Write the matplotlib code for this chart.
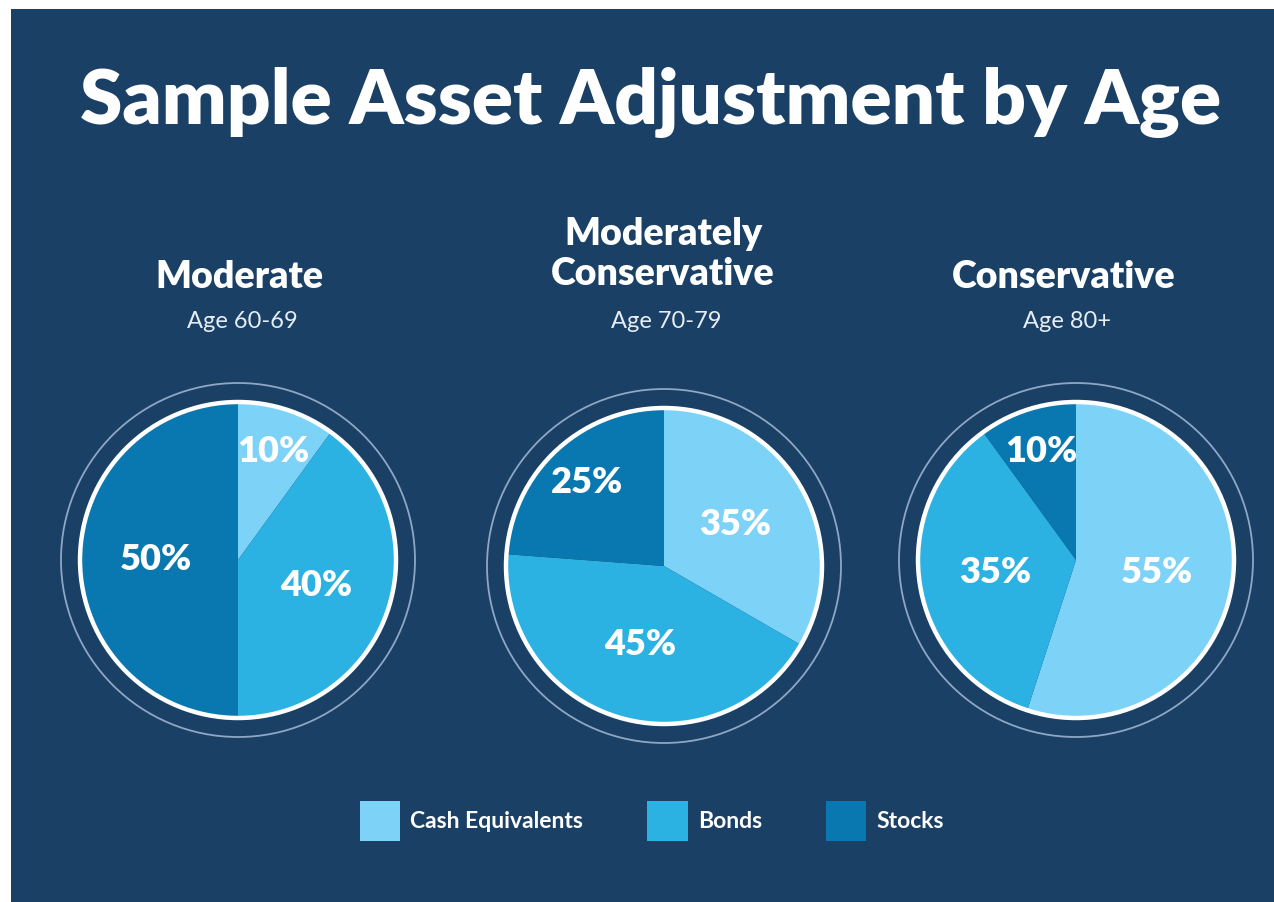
import matplotlib
matplotlib.use("Agg")
import matplotlib.pyplot as plt
from matplotlib.patches import Rectangle, Circle
import numpy as np

# ---- data ----
categories = ["Cash Equivalents", "Bonds", "Stocks"]
profiles = ["Moderate", "Moderately\nConservative", "Conservative"]
ages = ["Age 60-69", "Age 70-79", "Age 80+"]
moderate = [10, 40, 50]
moderately_conservative = [35, 45, 25]
conservative = [55, 35, 10]
title = "Sample Asset Adjustment by Age"

colors = ["#7dd2f7", "#2bb2e3", "#0a78b0"]
bg = "#1b4066"
W, H = 1274, 902

fig = plt.figure(figsize=(W / 100, H / 100), dpi=100, facecolor="white")
ax = fig.add_axes([0, 0, 1, 1])
ax.set_facecolor("white")

def Y(py):
    return H - py

ax.add_patch(Rectangle((11, 0), W - 11, H - 9, facecolor=bg, edgecolor="none", zorder=0))

FONT = "Lato"
ax.text(651, Y(103), title, ha="center", va="center", color="white",
        fontsize=55, fontweight="heavy", family=FONT)

centers = [(238, 560), (664, 566), (1076, 560)]
head_x = [239, 663, 1064]
head_y = [277, 254, 277]
radius = 158
series = [moderate, moderately_conservative, conservative]

wedges_first = None
for i, (vals, (cx, cy)) in enumerate(zip(series, centers)):
    ax.add_patch(Circle((cx, Y(cy)), radius + 19, fill=False, ec="#8ea7c4", lw=1.3, zorder=1))
    wedges, _ = ax.pie(vals, colors=colors, startangle=90, counterclock=False,
                       center=(cx, Y(cy)), radius=radius, frame=True,
                       wedgeprops=dict(linewidth=0, zorder=2))
    if wedges_first is None:
        wedges_first = wedges
    ax.add_patch(Circle((cx, Y(cy)), radius, fill=False, ec="white", lw=3.2, zorder=3))
    for w, v in zip(wedges, vals):
        mid = np.deg2rad((w.theta1 + w.theta2) / 2)
        frac = 0.72 if v <= 25 else 0.52
        tx = cx + frac * radius * np.cos(mid)
        ty = Y(cy) + frac * radius * np.sin(mid)
        ax.text(tx, ty, f"{v}%", ha="center", va="center", color="white",
                fontsize=26, fontweight="heavy", family=FONT, zorder=4)
    ax.text(head_x[i], Y(head_y[i]), profiles[i], ha="center", va="center",
            color="white", fontsize=27, fontweight="heavy", family=FONT,
            linespacing=1.2)
    ax.text(head_x[i] + 3, Y(322), ages[i], ha="center", va="center",
            color="#e6edf5", fontsize=17, fontweight="normal", family=FONT)

leg = ax.legend(wedges_first, categories, loc="center", bbox_to_anchor=(652 / W, 1 - 821 / H),
                bbox_transform=fig.transFigure, ncol=3, frameon=False,
                handlelength=1.75, handleheight=2.35, handletextpad=0.45, columnspacing=2.8,
                prop=dict(family=FONT, weight="bold", size=16.5))
for t in leg.get_texts():
    t.set_color("white")

ax.set_xlim(0, W)
ax.set_ylim(0, H)
ax.set_aspect("auto")
ax.axis("off")

fig.savefig("out.png", dpi=100, facecolor="white")
